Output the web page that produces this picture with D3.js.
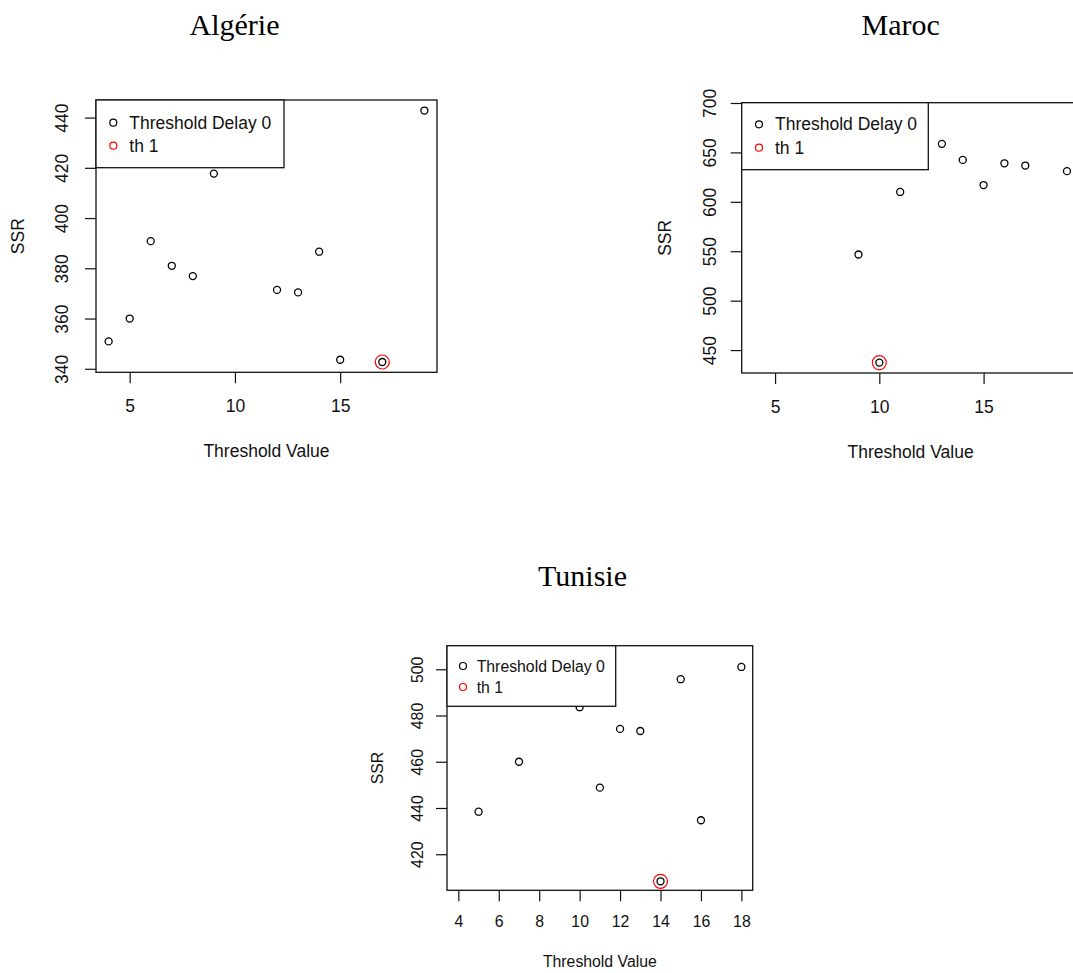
<!DOCTYPE html>
<html>
<head>
<meta charset="utf-8">
<script src="https://cdn.jsdelivr.net/npm/d3@7"></script>
<style>
  body { margin: 0; background: #fff; }
</style>
</head>
<body>
<svg id="chart" width="1073" height="973"></svg>
<script>
// threshold value vs SSR
const algerieThreshold = [4, 5, 6, 7, 8, 9, 12, 13, 14, 15, 17, 19];
const algerieSSR = [350.9, 360, 390.8, 381, 376.9, 417.7, 371.4, 370.4, 386.6, 343.6, 342.7, 442.8];
const algerieBest = [17, 342.7];

const marocThreshold = [9, 10, 11, 13, 14, 15, 16, 17, 19];
const marocSSR = [546.7, 437.3, 610, 658.7, 642.4, 617, 639, 636.7, 631];
const marocBest = [10, 437.3];

const tunisieThreshold = [5, 7, 10, 11, 12, 13, 14, 15, 16, 18];
const tunisieSSR = [438.4, 460, 483.6, 448.8, 474.2, 473.3, 408.3, 495.7, 434.7, 501];
const tunisieBest = [14, 408.3];

const legendLabels = ["Threshold Delay 0", "th 1"];
const legendColors = ["#000", "#f00"];

const panels = [
  {
    title: "Algérie", xs: algerieThreshold, ys: algerieSSR, best: algerieBest,
    xLim: [3.4, 19.6], yLim: [338.6, 447.0],
    xTicks: [5, 10, 15], yTicks: [340, 360, 380, 400, 420, 440],
    box: { left: 96, right: 437, top: 100, bottom: 372.3 },
    legend: { w: 188, h: 67.7, cx: 17.3, tx: 33.3, row1: 22.7, gap: 23 },
    font: 17.5, tickOff: 34, labOff: 79, yTickOff: 34, yLabOff: 78,
    titleX: 234.5, titleY: 35
  },
  {
    title: "Maroc", xs: marocThreshold, ys: marocSSR, best: marocBest,
    xLim: [3.4, 19.6], yLim: [426.8, 700.3],
    xTicks: [5, 10, 15], yTicks: [450, 500, 550, 600, 650, 700],
    box: { left: 741.7, right: 1079.5, top: 102.7, bottom: 373 },
    legend: { w: 186.6, h: 67, cx: 17.3, tx: 33.3, row1: 21.6, gap: 23.4 },
    font: 17.5, tickOff: 34, labOff: 79, yTickOff: 32, yLabOff: 77,
    titleX: 900.7, titleY: 35
  },
  {
    title: "Tunisie", xs: tunisieThreshold, ys: tunisieSSR, best: tunisieBest,
    xLim: [3.44, 18.56], yLim: [404.4, 510.2],
    xTicks: [4, 6, 8, 10, 12, 14, 16, 18], yTicks: [420, 440, 460, 480, 500],
    box: { left: 447, right: 752.7, top: 645.7, bottom: 890.3 },
    legend: { w: 168.7, h: 60.6, cx: 16, tx: 29.7, row1: 20.3, gap: 21 },
    font: 15.8, tickOff: 31, labOff: 71, yTickOff: 30, yLabOff: 70,
    titleX: 582.5, titleY: 585.7
  }
];

const svg = d3.select("#chart");
const sans = "Liberation Sans, Arial, sans-serif";
const ink = "#111";

function drawPanel(p) {
  const b = p.box;
  const g = svg.append("g");
  const x = d3.scaleLinear().domain(p.xLim).range([b.left, b.right]);
  const y = d3.scaleLinear().domain(p.yLim).range([b.bottom, b.top]);

  g.selectAll("circle.pt")
    .data(d3.zip(p.xs, p.ys))
    .join("circle")
    .attr("class", "pt")
    .attr("cx", d => x(d[0]))
    .attr("cy", d => y(d[1]))
    .attr("r", 3.5)
    .attr("fill", "none")
    .attr("stroke", "#000")
    .attr("stroke-width", 1.3);

  g.append("circle")
    .attr("cx", x(p.best[0]))
    .attr("cy", y(p.best[1]))
    .attr("r", 7)
    .attr("fill", "none")
    .attr("stroke", "#f00")
    .attr("stroke-width", 1.2);

  // x axis
  const xa = g.append("g")
    .attr("transform", `translate(0,${b.bottom})`)
    .call(d3.axisBottom(x).tickValues(p.xTicks).tickSize(11).tickFormat(d3.format("d")));
  xa.select(".domain").remove();
  xa.selectAll(".tick line").attr("stroke", ink).attr("stroke-width", 1.2);
  xa.selectAll(".tick text")
    .attr("y", p.tickOff)
    .attr("dy", "0.35em")
    .attr("fill", ink)
    .attr("font-size", p.font)
    .attr("font-family", sans);

  // y axis, labels parallel to the axis like R
  const ya = g.append("g")
    .attr("transform", `translate(${b.left},0)`)
    .call(d3.axisLeft(y).tickValues(p.yTicks).tickSize(11).tickFormat(d3.format("d")));
  ya.select(".domain").remove();
  ya.selectAll(".tick line").attr("stroke", ink).attr("stroke-width", 1.2);
  ya.selectAll(".tick text")
    .attr("x", null)
    .attr("dy", "0.35em")
    .attr("transform", `translate(${-p.yTickOff},0) rotate(-90)`)
    .attr("text-anchor", "middle")
    .attr("fill", ink)
    .attr("font-size", p.font)
    .attr("font-family", sans);

  g.append("text")
    .attr("x", (b.left + b.right) / 2)
    .attr("y", b.bottom + p.labOff)
    .attr("dy", "0.35em")
    .attr("text-anchor", "middle")
    .attr("fill", ink)
    .attr("font-size", p.font)
    .attr("font-family", sans)
    .text("Threshold Value");

  g.append("text")
    .attr("transform", `translate(${b.left - p.yLabOff},${(b.top + b.bottom) / 2}) rotate(-90)`)
    .attr("dy", "0.35em")
    .attr("text-anchor", "middle")
    .attr("fill", ink)
    .attr("font-size", p.font)
    .attr("font-family", sans)
    .text("SSR");

  g.append("rect")
    .attr("x", b.left).attr("y", b.top)
    .attr("width", b.right - b.left).attr("height", b.bottom - b.top)
    .attr("fill", "none")
    .attr("stroke", ink)
    .attr("stroke-width", 1.3);

  // legend, top-left, white background hides points beneath
  const L = p.legend;
  const lg = g.append("g").attr("transform", `translate(${b.left},${b.top})`);
  lg.append("rect")
    .attr("width", L.w).attr("height", L.h)
    .attr("fill", "#fff")
    .attr("stroke", ink)
    .attr("stroke-width", 1.3);
  legendLabels.forEach((lab, i) => {
    const cy = L.row1 + i * L.gap;
    lg.append("circle")
      .attr("cx", L.cx).attr("cy", cy).attr("r", 3.5)
      .attr("fill", "none")
      .attr("stroke", legendColors[i])
      .attr("stroke-width", 1.2);
    lg.append("text")
      .attr("x", L.tx).attr("y", cy)
      .attr("dy", "0.35em")
      .attr("fill", ink)
      .attr("font-size", p.font)
      .attr("font-family", sans)
      .text(lab);
  });

  svg.append("text")
    .attr("x", p.titleX)
    .attr("y", p.titleY)
    .attr("text-anchor", "middle")
    .attr("fill", "#000")
    .attr("font-size", 30)
    .attr("font-family", "Liberation Serif, Times New Roman, serif")
    .text(p.title);
}

panels.forEach(drawPanel);
</script>
</body>
</html>
